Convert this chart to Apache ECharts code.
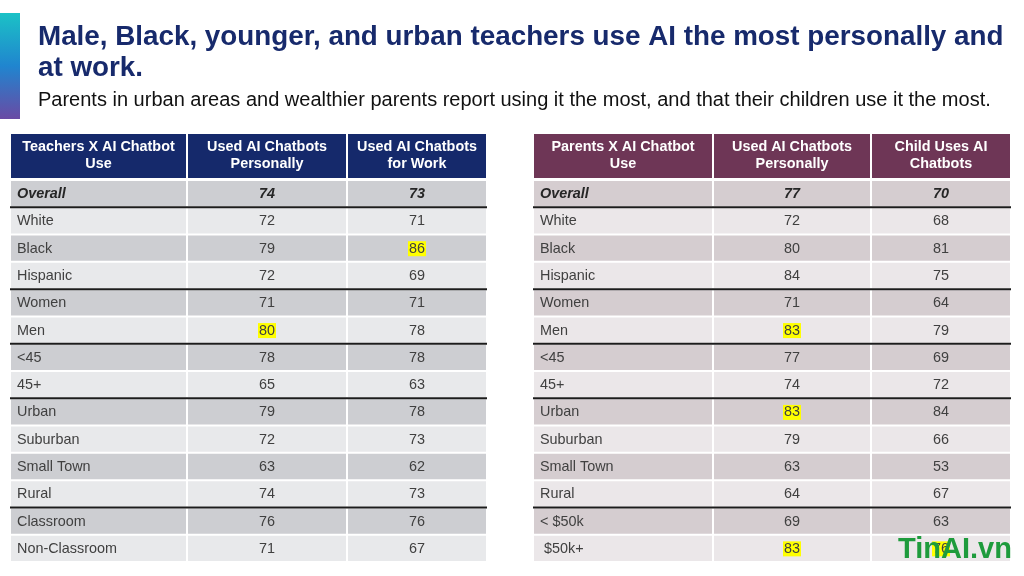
<!DOCTYPE html>
<html><head><meta charset="utf-8">
<script src="https://cdn.jsdelivr.net/npm/echarts@6/dist/echarts.min.js"></script>
<style>html,body{margin:0;padding:0;background:#fff}#c{width:1024px;height:576px}</style>
</head><body><div id="c"></div>
<script>
// ---------- data ----------
const teacherHeaders = ['Teachers X AI Chatbot\nUse', 'Used AI Chatbots\nPersonally', 'Used AI Chatbots\nfor Work'];
const teacherRows = ['Overall','White','Black','Hispanic','Women','Men','<45','45+','Urban','Suburban','Small Town','Rural','Classroom','Non-Classroom'];
const teacherPersonal = [74,72,79,72,71,80,78,65,79,72,63,74,76,71];
const teacherWork = [73,71,86,69,71,78,78,63,78,73,62,73,76,67];
const teacherHighlights = [[2,2],[5,1]]; // [row, col]

const parentHeaders = ['Parents X AI Chatbot\nUse', 'Used AI Chatbots\nPersonally', 'Child Uses AI\nChatbots'];
const parentRows = ['Overall','White','Black','Hispanic','Women','Men','<45','45+','Urban','Suburban','Small Town','Rural','< $50k',' $50k+'];
const parentPersonal = [77,72,80,84,71,83,77,74,83,79,63,64,69,83];
const childUses = [70,68,81,75,64,79,69,72,84,66,53,67,63,76];
const parentHighlights = [[5,1],[8,1],[13,1],[13,2]];

const groupBreaks = [0,3,5,7,11]; // thick rule under these rows

const titleText = 'Male, Black, younger, and urban teachers use AI the most personally and\nat work.';
const subtitleText = 'Parents in urban areas and wealthier parents report using it the most, and that their children use it the most.';

// ---------- rendering ----------
const FONT = '"Liberation Sans", Arial, sans-serif';
const chart = echarts.init(document.getElementById('c'));

function headerRender(frac, headers, fill) {
  return function (params, api) {
    const col = api.value(0);
    const x0 = api.coord([frac[col], 0])[0];
    const x1 = api.coord([frac[col + 1], 0])[0];
    const yc = api.coord([0, 0])[1];
    const h = api.size([0, 1])[1];
    const y0 = yc - h / 2;
    return {
      type: 'group',
      children: [
        { type: 'rect', shape: { x: x0 + 1, y: y0, width: x1 - x0 - 2, height: h }, style: { fill: fill } },
        { type: 'text', style: { x: (x0 + x1) / 2, y: yc, text: headers[col], fill: '#ffffff',
          font: 'bold 14.4px ' + FONT, lineHeight: 17, align: 'center', verticalAlign: 'middle' } }
      ]
    };
  };
}

function bodyRender(frac, rows, cols, highlights, dark, light) {
  return function (params, api) {
    const col = api.value(0), row = api.value(1);
    const x0 = api.coord([frac[col], row])[0];
    const x1 = api.coord([frac[col + 1], row])[0];
    const yc = api.coord([0, row])[1];
    const h = api.size([0, 1])[1];
    const y0 = yc - h / 2;
    const isOverall = row === 0;
    const text = col === 0 ? rows[row] : String(cols[col - 1][row]);
    const hl = highlights.some(p => p[0] === row && p[1] === col);
    const children = [
      { type: 'rect', shape: { x: x0 + 1, y: y0 + 1, width: x1 - x0 - 2, height: h - 2 },
        style: { fill: row % 2 === 0 ? dark : light } },
      { type: 'text', z2: 5, style: {
          x: col === 0 ? x0 + 7 : (x0 + x1) / 2, y: yc + 0.5, text: text,
          fill: isOverall ? '#262626' : '#404040',
          font: (isOverall ? 'italic bold ' : '') + '14.4px ' + FONT,
          align: col === 0 ? 'left' : 'center', verticalAlign: 'middle',
          backgroundColor: hl ? '#ffff00' : null, padding: hl ? [1, 1, 0, 1] : 0 } }
    ];
    if (col === 0 && groupBreaks.indexOf(row) >= 0) {
      const gx0 = params.coordSys.x, gx1 = params.coordSys.x + params.coordSys.width;
      children.push({ type: 'line', z2: 10, shape: { x1: gx0, y1: y0 + h, x2: gx1, y2: y0 + h },
        style: { stroke: '#1c1c1c', lineWidth: 2 } });
    }
    return { type: 'group', children: children };
  };
}

function cellData(nRows) {
  const d = [];
  for (let r = 0; r < nRows; r++) for (let c = 0; c < 3; c++) d.push([c, r]);
  return d;
}

const teacherFrac = [0, 177 / 477, 337 / 477, 1];
const parentFrac = [0, 180 / 478, 338 / 478, 1];

const hiddenX = i => ({ type: 'value', gridIndex: i, min: 0, max: 1, show: false });
const hiddenY = (i, data) => ({ type: 'category', gridIndex: i, data: data, inverse: true, show: false });

const option = {
  backgroundColor: '#ffffff',
  animation: false,
  title: [
    { text: titleText, left: 38, top: 22, padding: 0,
      textStyle: { fontFamily: FONT, fontSize: 27.8, fontWeight: 'bold', color: '#172a6c', lineHeight: 31 } },
    { text: subtitleText, left: 38, top: 90, padding: 0,
      textStyle: { fontFamily: FONT, fontSize: 20, fontWeight: 'normal', color: '#111111' } },
    { text: 'TinAI.vn', left: 898, top: 535, padding: 0,
      textStyle: { fontFamily: FONT, fontSize: 29, fontWeight: 'bold', color: '#1e9b3c' } }
  ],
  graphic: [
    { type: 'rect', left: 0, top: 13, shape: { width: 20, height: 106 },
      style: { fill: new echarts.graphic.LinearGradient(0, 0, 0, 1, [
        { offset: 0, color: '#1bc2c6' }, { offset: 0.5, color: '#2085cf' }, { offset: 1, color: '#6a4aa4' }]) } }
  ],
  grid: [
    { left: 10, top: 134, width: 477, height: 44 },
    { left: 10, top: 180, width: 477, height: 382 },
    { left: 533, top: 134, width: 478, height: 44 },
    { left: 533, top: 180, width: 478, height: 382 }
  ],
  xAxis: [hiddenX(0), hiddenX(1), hiddenX(2), hiddenX(3)],
  yAxis: [hiddenY(0, ['header']), hiddenY(1, teacherRows), hiddenY(2, ['header']), hiddenY(3, parentRows)],
  series: [
    { type: 'custom', xAxisIndex: 0, yAxisIndex: 0, data: [[0, 0], [1, 0], [2, 0]],
      renderItem: headerRender(teacherFrac, teacherHeaders, '#15296b') },
    { type: 'custom', xAxisIndex: 1, yAxisIndex: 1, data: cellData(teacherRows.length),
      renderItem: bodyRender(teacherFrac, teacherRows, [teacherPersonal, teacherWork], teacherHighlights, '#cdced2', '#e8e9eb') },
    { type: 'custom', xAxisIndex: 2, yAxisIndex: 2, data: [[0, 0], [1, 0], [2, 0]],
      renderItem: headerRender(parentFrac, parentHeaders, '#6e3656') },
    { type: 'custom', xAxisIndex: 3, yAxisIndex: 3, data: cellData(parentRows.length),
      renderItem: bodyRender(parentFrac, parentRows, [parentPersonal, childUses], parentHighlights, '#d5cdd0', '#ebe7e9') }
  ]
};
chart.setOption(option);
</script>
</body></html>
